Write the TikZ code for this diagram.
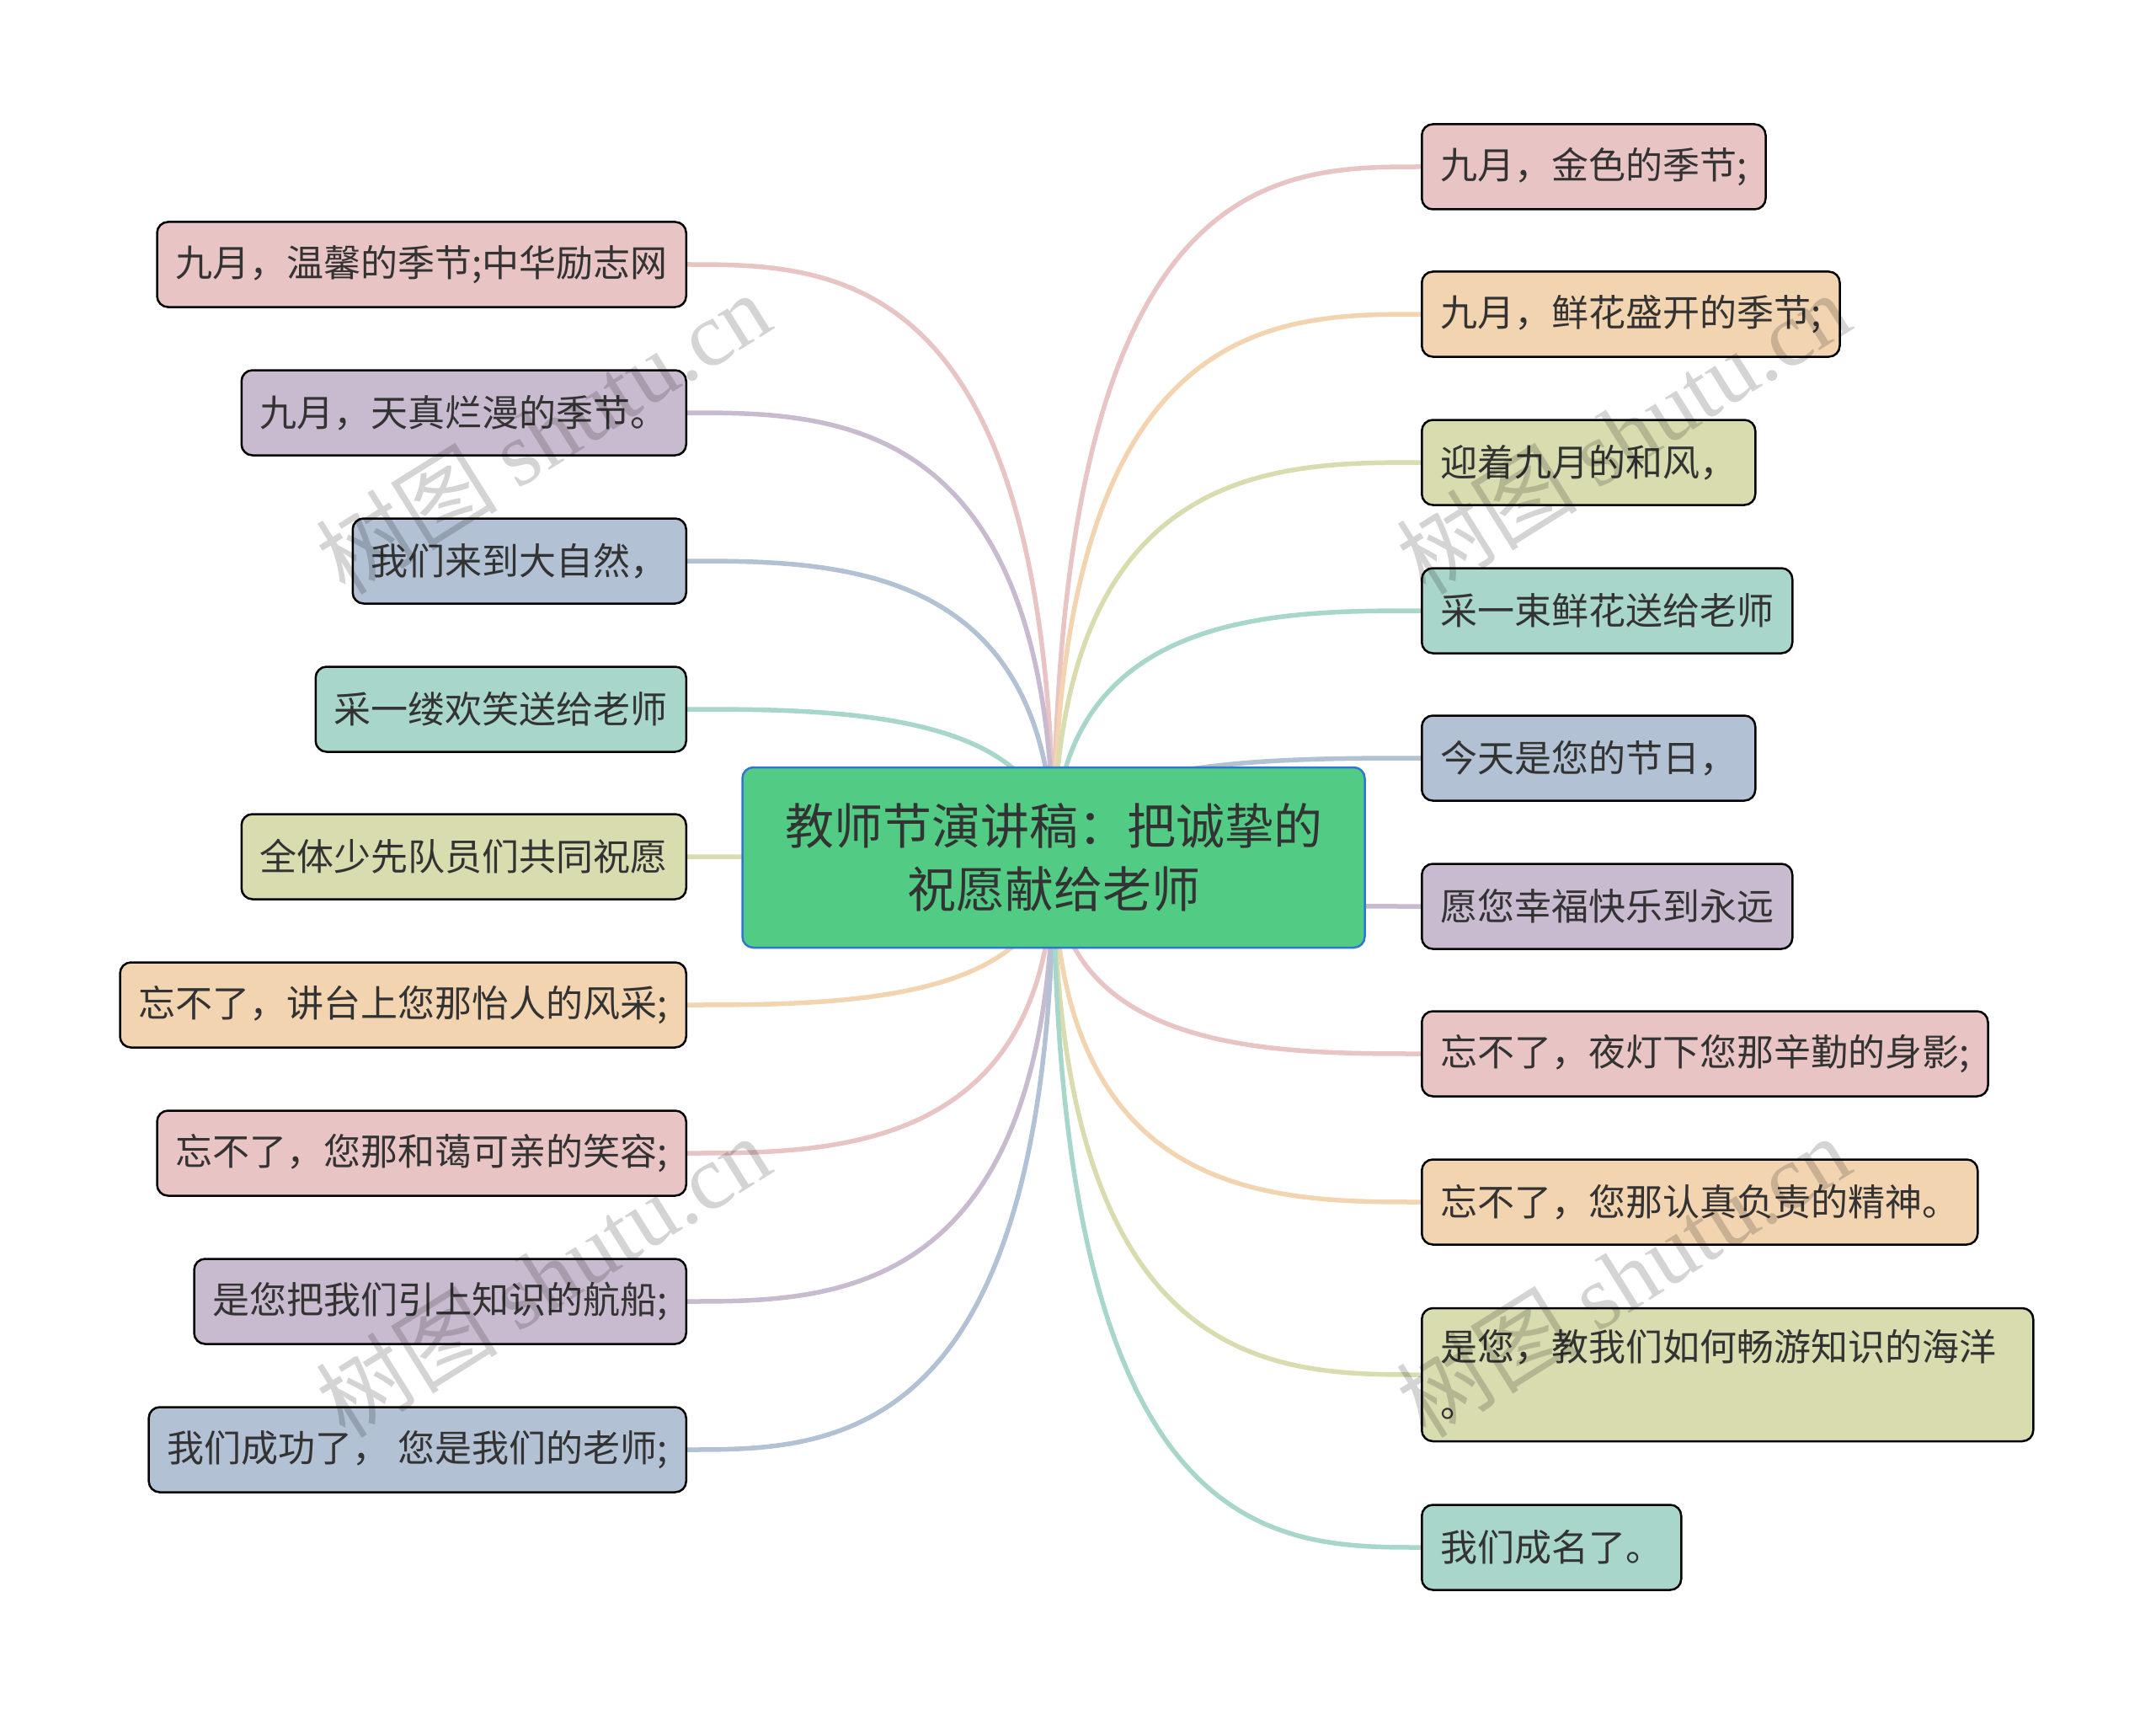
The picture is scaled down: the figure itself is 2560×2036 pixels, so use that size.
\documentclass[tikz,border=0pt]{standalone}
\usepackage{fontspec}
\setmainfont{Noto Sans CJK SC}
\newfontfamily\cjkf{Noto Sans CJK SC}
\newfontfamily\wmserif{Liberation Serif}
\usetikzlibrary{calc,backgrounds}

\definecolor{cpink}{HTML}{E8C4C4}
\definecolor{cpurple}{HTML}{C9BBCF}
\definecolor{cblue}{HTML}{B2C1D3}
\definecolor{cteal}{HTML}{A8D6CB}
\definecolor{colive}{HTML}{D8DCAE}
\definecolor{cpeach}{HTML}{F2D4B1}
\definecolor{cgreen}{HTML}{52CC84}
\definecolor{cborder}{HTML}{2F77D0}
\definecolor{ctext}{HTML}{333333}

\tikzset{
  leaf/.style={draw=black, line width=2.5pt, rounded corners=13pt, inner xsep=22pt, inner ysep=0pt,
    minimum height=101pt, font=\fontsize{44}{66}\selectfont, text=ctext},
  root/.style={draw=cborder, fill=cgreen, line width=2.5pt, rounded corners=13pt,
    minimum width=739pt, minimum height=214pt, align=center, inner sep=0pt,
    font=\fontsize{58}{75}\selectfont, text=ctext},
  conn/.style={line width=5.5pt},
  wm/.style={text=black, text opacity=0.17, rotate=32, font=\fontsize{108}{108}\selectfont, inner sep=0pt}
}

\begin{document}
\begin{tikzpicture}[x=1pt,y=-1pt]
\useasboundingbox (0,0) rectangle (2560,2036);

\node[root] (c) at (1251,1018) {教师节演讲稿：把诚挚的\\祝愿献给老师};

% left
\node[leaf, fill=cpink,   anchor=east] (l1) at (816,314)  {九月，温馨的季节;中华励志网};
\node[leaf, fill=cpurple, anchor=east] (l2) at (816,490)  {九月，天真烂漫的季节。};
\node[leaf, fill=cblue,   anchor=east] (l3) at (816,666)  {我们来到大自然，};
\node[leaf, fill=cteal,   anchor=east] (l4) at (816,842)  {采一缕欢笑送给老师};
\node[leaf, fill=colive,  anchor=east] (l5) at (816,1017) {全体少先队员们共同祝愿};
\node[leaf, fill=cpeach,  anchor=east] (l6) at (816,1193) {忘不了，讲台上您那怡人的风采;};
\node[leaf, fill=cpink,   anchor=east] (l7) at (816,1369) {忘不了，您那和蔼可亲的笑容;};
\node[leaf, fill=cpurple, anchor=east] (l8) at (816,1545) {是您把我们引上知识的航船;};
\node[leaf, fill=cblue,   anchor=east] (l9) at (816,1721) {我们成功了， 您是我们的老师;};

% right
\node[leaf, fill=cpink,   anchor=west] (r1) at (1687,198)  {九月，金色的季节;};
\node[leaf, fill=cpeach,  anchor=west] (r2) at (1687,373)  {九月，鲜花盛开的季节;};
\node[leaf, fill=colive,  anchor=west] (r3) at (1687,549)  {迎着九月的和风，};
\node[leaf, fill=cteal,   anchor=west] (r4) at (1687,725)  {采一束鲜花送给老师};
\node[leaf, fill=cblue,   anchor=west] (r5) at (1687,900)  {今天是您的节日，};
\node[leaf, fill=cpurple, anchor=west] (r6) at (1687,1076) {愿您幸福快乐到永远};
\node[leaf, fill=cpink,   anchor=west] (r7) at (1687,1251) {忘不了，夜灯下您那辛勤的身影;};
\node[leaf, fill=cpeach,  anchor=west] (r8) at (1687,1427) {忘不了，您那认真负责的精神。};
\node[leaf, fill=colive,  anchor=west, minimum height=158pt, text width=682pt, align=left,
      font=\fontsize{44}{67}\selectfont] (r9) at (1687,1632) {是您，教我们如何畅游知识的海洋\\。};
\node[leaf, fill=cteal,   anchor=west] (r10) at (1687,1837) {我们成名了。};

\begin{scope}[on background layer]
\fill[white] (0,0) rectangle (2560,2036);
\foreach \n/\a/\col in {l1/east/cpink, l2/east/cpurple, l3/east/cblue, l4/east/cteal, l5/east/colive,
    l6/east/cpeach, l7/east/cpink, l8/east/cpurple, l9/east/cblue,
    r1/west/cpink, r2/west/cpeach, r3/west/colive, r4/west/cteal, r5/west/cblue,
    r6/west/cpurple, r7/west/cpink, r8/west/cpeach, r9/west/colive, r10/west/cteal}{
  \draw[conn, draw=\col] (c.center) .. controls (c.center |- \n.\a) and ($(c.center |- \n.\a)!0.6!(\n.\a)$) .. (\n.\a);
}
\end{scope}

% watermarks
\node[wm] (w1) at (645,514)   {树图 {\wmserif shutu.cn}};
\node[wm] (w2) at (1927,514)  {树图 {\wmserif shutu.cn}};
\node[wm] (w3) at (645,1515)  {树图 {\wmserif shutu.cn}};
\node[wm] (w4) at (1927,1515) {树图 {\wmserif shutu.cn}};
\end{tikzpicture}
\end{document}
